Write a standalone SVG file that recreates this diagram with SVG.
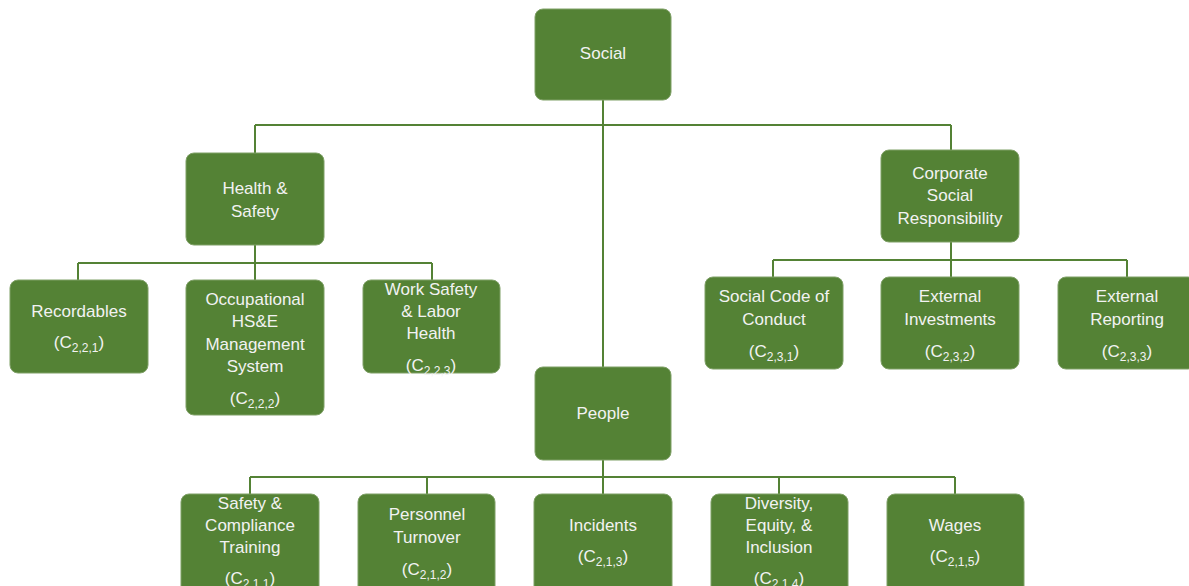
<svg xmlns="http://www.w3.org/2000/svg" width="1189" height="586" viewBox="0 0 1189 586">
<style>
.box{fill:#548235;stroke:#7fa067;stroke-width:1}
.t{font-family:"Liberation Sans",Arial,sans-serif;font-size:17px;fill:#f2f2f2;text-anchor:middle}
.s{font-size:12px}
.c{fill:none;stroke:#548235;stroke-width:2}
</style>
<rect width="1189" height="586" fill="#ffffff"/>
<g id="connectors">
<path class="c" d="M603 100V367M255 125H951M255 125V153M951 125V150"/>
<path class="c" d="M255 245V263M78 263H432M78 263V280M255 263V280M432 263V280"/>
<path class="c" d="M951 242V260M773 260H1127M773 260V277M951 260V277M1127 260V277"/>
<path class="c" d="M603 460V477M250 477H955M250 477V494M427 477V494M603 477V494M779 477V494M955 477V494"/>
</g>
<g id="social"><rect class="box" x="535" y="9" width="136" height="91" rx="8"/><text class="t" x="603" y="59">Social</text></g>
<g id="health-safety"><rect class="box" x="186" y="153" width="138" height="92" rx="8"/><text class="t" x="255" y="194">Health &amp;</text><text class="t" x="255" y="217">Safety</text></g>
<g id="csr"><rect class="box" x="881" y="150" width="138" height="92" rx="8"/><text class="t" x="950" y="179">Corporate</text><text class="t" x="950" y="201">Social</text><text class="t" x="950" y="224">Responsibility</text></g>
<g id="recordables"><rect class="box" x="10" y="280" width="138" height="93" rx="8"/><text class="t" x="79" y="317">Recordables</text><text class="t" x="79" y="348">(C<tspan class="s" dy="4">2,2,1</tspan><tspan dy="-4">)</tspan></text></g>
<g id="occupational"><rect class="box" x="186" y="280" width="138" height="135" rx="8"/><text class="t" x="255" y="305">Occupational</text><text class="t" x="255" y="327">HS&amp;E</text><text class="t" x="255" y="350">Management</text><text class="t" x="255" y="372">System</text><text class="t" x="255" y="404">(C<tspan class="s" dy="4">2,2,2</tspan><tspan dy="-4">)</tspan></text></g>
<g id="work-safety"><rect class="box" x="363" y="280" width="137" height="93" rx="8"/><text class="t" x="431" y="295">Work Safety</text><text class="t" x="431" y="317">&amp; Labor</text><text class="t" x="431" y="339">Health</text><text class="t" x="431" y="371">(C<tspan class="s" dy="4">2,2,3</tspan><tspan dy="-4">)</tspan></text></g>
<g id="social-code"><rect class="box" x="705" y="277" width="138" height="92" rx="8"/><text class="t" x="774" y="302">Social Code of</text><text class="t" x="774" y="325">Conduct</text><text class="t" x="774" y="357">(C<tspan class="s" dy="4">2,3,1</tspan><tspan dy="-4">)</tspan></text></g>
<g id="external-investments"><rect class="box" x="881" y="277" width="138" height="92" rx="8"/><text class="t" x="950" y="302">External</text><text class="t" x="950" y="325">Investments</text><text class="t" x="950" y="357">(C<tspan class="s" dy="4">2,3,2</tspan><tspan dy="-4">)</tspan></text></g>
<g id="external-reporting"><rect class="box" x="1058" y="277" width="138" height="92" rx="8"/><text class="t" x="1127" y="302">External</text><text class="t" x="1127" y="325">Reporting</text><text class="t" x="1127" y="357">(C<tspan class="s" dy="4">2,3,3</tspan><tspan dy="-4">)</tspan></text></g>
<g id="people"><rect class="box" x="535" y="367" width="136" height="93" rx="8"/><text class="t" x="603" y="419">People</text></g>
<g id="safety-compliance"><rect class="box" x="181" y="494" width="138" height="100" rx="8"/><text class="t" x="250" y="509">Safety &amp;</text><text class="t" x="250" y="531">Compliance</text><text class="t" x="250" y="553">Training</text><text class="t" x="250" y="584">(C<tspan class="s" dy="4">2,1,1</tspan><tspan dy="-4">)</tspan></text></g>
<g id="personnel-turnover"><rect class="box" x="358" y="494" width="137" height="100" rx="8"/><text class="t" x="427" y="520">Personnel</text><text class="t" x="427" y="543">Turnover</text><text class="t" x="427" y="575">(C<tspan class="s" dy="4">2,1,2</tspan><tspan dy="-4">)</tspan></text></g>
<g id="incidents"><rect class="box" x="534" y="494" width="138" height="100" rx="8"/><text class="t" x="603" y="531">Incidents</text><text class="t" x="603" y="562">(C<tspan class="s" dy="4">2,1,3</tspan><tspan dy="-4">)</tspan></text></g>
<g id="dei"><rect class="box" x="711" y="494" width="137" height="100" rx="8"/><text class="t" x="779" y="509">Diversity,</text><text class="t" x="779" y="531">Equity, &amp;</text><text class="t" x="779" y="553">Inclusion</text><text class="t" x="779" y="584">(C<tspan class="s" dy="4">2,1,4</tspan><tspan dy="-4">)</tspan></text></g>
<g id="wages"><rect class="box" x="887" y="494" width="137" height="100" rx="8"/><text class="t" x="955" y="531">Wages</text><text class="t" x="955" y="562">(C<tspan class="s" dy="4">2,1,5</tspan><tspan dy="-4">)</tspan></text></g>
</svg>
